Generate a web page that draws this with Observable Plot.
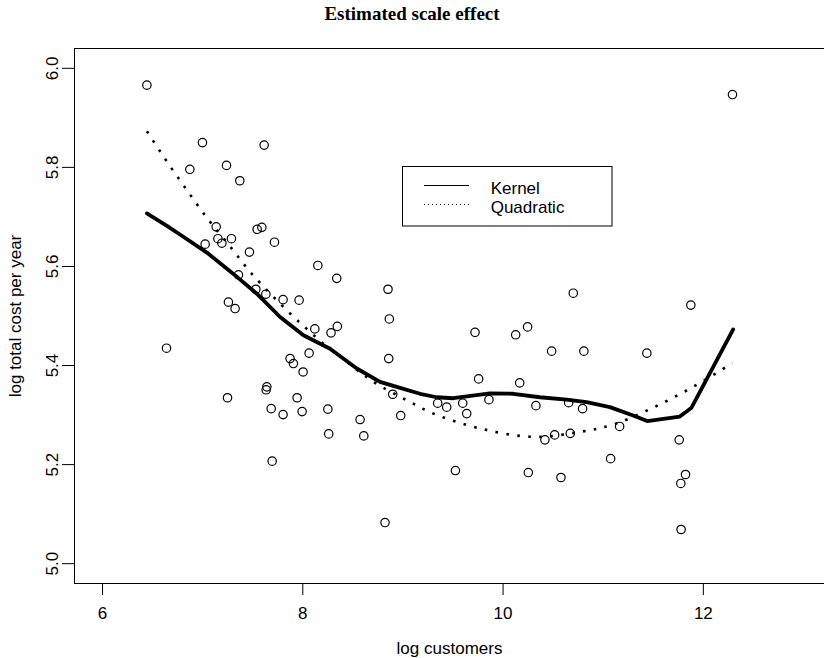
<!DOCTYPE html>
<html>
<head>
<meta charset="utf-8">
<script src="https://cdn.jsdelivr.net/npm/d3@7"></script>
<script src="https://cdn.jsdelivr.net/npm/@observablehq/plot@0.6"></script>
<style>
  html, body { margin: 0; padding: 0; background: #fff; overflow: hidden; }
  #wrap { position: relative; width: 824px; height: 658px; }
  #title { position: absolute; left: 0; top: 4px; width: 824px; text-align: center;
           font-family: "Liberation Serif", "Times New Roman", serif; font-weight: bold;
           font-size: 19px; line-height: 19px; color: #000; }
  #legend { position: absolute; left: 0; top: 0; pointer-events: none; }
  svg { overflow: hidden; }
</style>
</head>
<body>
<div id="wrap">
  <div id="chart"></div>
  <div id="title">Estimated scale effect</div>
  <svg id="legend" width="824" height="658" xmlns="http://www.w3.org/2000/svg"></svg>
</div>
<script>
// ---- data ----
const logCustomers = [
  6.443, 6.998, 7.614, 6.872, 7.238, 7.371, 7.135, 7.544, 7.591, 7.152,
  7.287, 7.192, 7.025, 7.717, 7.467, 8.150, 8.339, 7.357, 7.531, 7.631,
  7.803, 7.963, 7.257, 7.324, 8.851, 8.864, 8.120, 8.282, 8.345, 6.639,
  8.063, 12.291, 10.701, 11.875, 9.720, 10.126, 10.245, 10.485, 10.807, 11.436,
  7.873, 7.906, 8.003, 8.858, 7.248, 7.641, 7.634, 7.943, 8.898, 7.684,
  7.803, 7.993, 8.250, 8.572, 8.978, 8.259, 8.609, 7.694, 8.821, 9.756,
  10.166, 9.347, 9.437, 9.597, 9.637, 9.859, 10.328, 10.655, 10.794, 10.418,
  10.515, 10.671, 11.164, 11.074, 11.759, 9.524, 10.252, 10.578, 11.822, 11.775,
  11.778
];
const logCost = [
  5.966, 5.850, 5.845, 5.796, 5.804, 5.773, 5.680, 5.675, 5.679, 5.656,
  5.656, 5.647, 5.645, 5.649, 5.629, 5.602, 5.576, 5.583, 5.554, 5.544,
  5.533, 5.532, 5.528, 5.515, 5.554, 5.494, 5.474, 5.466, 5.479, 5.435,
  5.425, 5.947, 5.546, 5.522, 5.467, 5.462, 5.478, 5.429, 5.429, 5.425,
  5.414, 5.404, 5.387, 5.414, 5.335, 5.357, 5.351, 5.335, 5.342, 5.313,
  5.301, 5.307, 5.312, 5.291, 5.299, 5.262, 5.258, 5.207, 5.083, 5.373,
  5.365, 5.324, 5.316, 5.324, 5.303, 5.331, 5.319, 5.325, 5.313, 5.250,
  5.260, 5.263, 5.277, 5.212, 5.250, 5.188, 5.184, 5.174, 5.180, 5.162,
  5.069
];

const kernelX = [6.443, 6.643, 6.777, 7.042, 7.307, 7.541, 7.773, 8.006, 8.272, 8.539,
                 8.771, 8.971, 9.171, 9.337, 9.503, 9.869, 10.102, 10.368, 10.635, 10.834,
                 11.067, 11.299, 11.439, 11.765, 11.882, 12.298];
const kernelY = [5.707, 5.682, 5.664, 5.628, 5.585, 5.545, 5.498, 5.461, 5.434, 5.394,
                 5.367, 5.355, 5.343, 5.336, 5.334, 5.344, 5.343, 5.336, 5.331, 5.326,
                 5.316, 5.299, 5.288, 5.297, 5.315, 5.473];

const quadX = [6.443, 6.569, 6.693, 6.822, 6.948, 7.082, 7.291, 7.491, 7.873, 8.040,
               8.206, 8.389, 8.555, 8.739, 9.038, 9.304, 9.770, 10.301, 10.765, 11.100,
               11.499, 11.898, 12.291];
const quadY = [5.873, 5.834, 5.797, 5.760, 5.724, 5.688, 5.636, 5.585, 5.505, 5.474,
               5.444, 5.416, 5.389, 5.363, 5.330, 5.303, 5.273, 5.256, 5.266, 5.281,
               5.315, 5.357, 5.405];

const xTicks = [6, 8, 10, 12];
const yTicks = [5.0, 5.2, 5.4, 5.6, 5.8, 6.0];
const seriesNames = ["Kernel", "Quadratic"];
const titleText = "Estimated scale effect";
const xLabel = "log customers";
const yLabel = "log total cost per year";

// ---- build tables ----
const points = logCustomers.map((x, i) => ({x, y: logCost[i]}));
const kernel = kernelX.map((x, i) => ({x, y: kernelY[i]}));
const quad = quadX.map((x, i) => ({x, y: quadY[i]}));

const xDomain = [5.72, 13.21];
const yDomain = [4.96, 6.04];
const FONT = "'Liberation Sans', Arial, Helvetica, sans-serif";

const chart = Plot.plot({
  width: 824,
  height: 658,
  marginLeft: 74,
  marginRight: 0,
  marginTop: 48,
  marginBottom: 75,
  style: {fontFamily: FONT, fontSize: "17px", color: "#000", background: "#fff"},
  x: {domain: xDomain},
  y: {domain: yDomain},
  marks: [
    Plot.ruleY([yDomain[0], yDomain[1]], {stroke: "#000", strokeWidth: 1}),
    Plot.ruleX([xDomain[0]], {stroke: "#000", strokeWidth: 1}),
    Plot.axisX({ticks: xTicks, tickFormat: d => String(d), tickSize: 12, tickPadding: 11.7,
                fontSize: 17, label: xLabel, labelAnchor: "center", labelOffset: 70,
                labelArrow: "none", stroke: "#000"}),
    Plot.axisY({ticks: yTicks, tickFormat: d3.format(".1f"), tickSize: 12, tickPadding: 4.7,
                tickRotate: -90, fontSize: 17, label: yLabel, labelAnchor: "center",
                labelOffset: 66, labelArrow: "none", stroke: "#000"}),
    Plot.dot(points, {x: "x", y: "y", r: 4.2, stroke: "#000", strokeWidth: 1.2, fill: "none"}),
    Plot.line(quad, {x: "x", y: "y", stroke: "#000", strokeWidth: 2.6, curve: "catmull-rom",
                     strokeDasharray: "2.6,8.4", strokeLinecap: "butt"}),
    Plot.line(kernel, {x: "x", y: "y", stroke: "#000", strokeWidth: 3.8, curve: "linear",
                       strokeLinejoin: "round", strokeLinecap: "round"})
  ]
});
document.getElementById("chart").appendChild(chart);
document.getElementById("title").textContent = titleText;

// ---- legend (overlay inside the plot area) ----
const lg = d3.select("#legend");
lg.append("rect").attr("x", 402.5).attr("y", 166.5).attr("width", 209.5).attr("height", 59.5)
  .attr("fill", "#fff").attr("stroke", "#000").attr("stroke-width", 1);
lg.append("line").attr("x1", 424).attr("x2", 469).attr("y1", 185.5).attr("y2", 185.5)
  .attr("stroke", "#000").attr("stroke-width", 1);
lg.append("line").attr("x1", 424).attr("x2", 469).attr("y1", 204.5).attr("y2", 204.5)
  .attr("stroke", "#000").attr("stroke-width", 1).attr("stroke-dasharray", "1,3");
lg.selectAll("text.lab").data(seriesNames).join("text").attr("class", "lab")
  .attr("x", 490.7).attr("y", (d, i) => i === 0 ? 194 : 212.7)
  .attr("font-family", FONT).attr("font-size", 17).attr("fill", "#000")
  .text(d => d);
</script>
</body>
</html>
